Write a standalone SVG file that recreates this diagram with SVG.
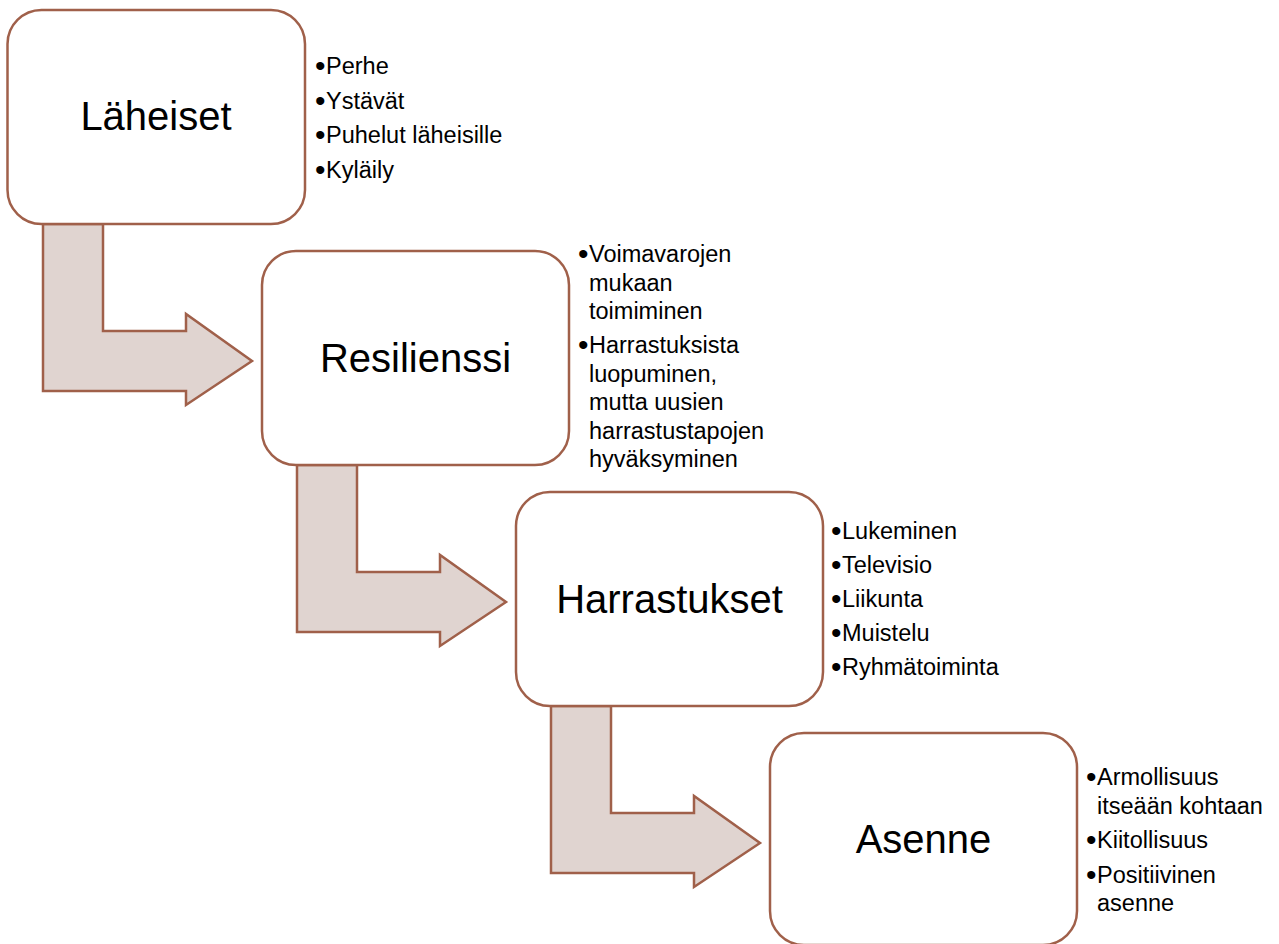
<svg xmlns="http://www.w3.org/2000/svg" width="1279" height="944" viewBox="0 0 1279 944">
<style>
.arrow{fill:#E0D4D0;stroke:#A0604A;stroke-width:2.5;stroke-linejoin:miter}
.box{fill:#FFFFFF;stroke:#A0604A;stroke-width:2.5}
.title{font-family:"Liberation Sans",Arial,sans-serif;font-size:40px;fill:#000;text-anchor:middle}
.item{font-family:"Liberation Sans",Arial,sans-serif;font-size:23.5px;fill:#000}
.b{font-size:30px}
</style>
<rect width="1279" height="944" fill="#FFFFFF"/>
<g id="connectors">
<path class="arrow" d="M43,224 L103,224 L103,331 L186,331 L186,314 L252,361 L186,405 L186,391 L43,391 Z"/>
<path class="arrow" d="M297,465 L357,465 L357,572 L440,572 L440,555 L506,602 L440,646 L440,632 L297,632 Z"/>
<path class="arrow" d="M551,706 L611,706 L611,813 L694,813 L694,796 L760,843 L694,887 L694,873 L551,873 Z"/>
</g>
<g id="node-laheiset">
<rect class="box" x="7.5" y="10" width="297.5" height="214" rx="34" ry="34"/>
<text class="title" x="156" y="130">Läheiset</text>
<text class="item"><tspan class="b" x="315" y="76">•</tspan><tspan x="326" y="74">Perhe</tspan><tspan class="b" x="315" y="110.5">•</tspan><tspan x="326" y="108.5">Ystävät</tspan><tspan class="b" x="315" y="145">•</tspan><tspan x="326" y="143">Puhelut läheisille</tspan><tspan class="b" x="315" y="179.5">•</tspan><tspan x="326" y="177.5">Kyläily</tspan></text>
</g>
<g id="node-resilienssi">
<rect class="box" x="262" y="251" width="307" height="214" rx="34" ry="34"/>
<text class="title" x="415.5" y="372">Resilienssi</text>
<text class="item"><tspan class="b" x="578" y="264">•</tspan><tspan x="589" y="262">Voimavarojen</tspan><tspan x="589" y="290.5">mukaan</tspan><tspan x="589" y="319">toimiminen</tspan><tspan class="b" x="578" y="355">•</tspan><tspan x="589" y="353">Harrastuksista</tspan><tspan x="589" y="381.5">luopuminen,</tspan><tspan x="589" y="410">mutta uusien</tspan><tspan x="589" y="438.5">harrastustapojen</tspan><tspan x="589" y="467">hyväksyminen</tspan></text>
</g>
<g id="node-harrastukset">
<rect class="box" x="516" y="492" width="307" height="214" rx="34" ry="34"/>
<text class="title" x="669.5" y="613">Harrastukset</text>
<text class="item"><tspan class="b" x="831" y="541">•</tspan><tspan x="842" y="539">Lukeminen</tspan><tspan class="b" x="831" y="575">•</tspan><tspan x="842" y="573">Televisio</tspan><tspan class="b" x="831" y="609">•</tspan><tspan x="842" y="607">Liikunta</tspan><tspan class="b" x="831" y="643">•</tspan><tspan x="842" y="641">Muistelu</tspan><tspan class="b" x="831" y="677">•</tspan><tspan x="842" y="675">Ryhmätoiminta</tspan></text>
</g>
<g id="node-asenne">
<rect class="box" x="770" y="733" width="307" height="212" rx="34" ry="34"/>
<text class="title" x="923.5" y="853">Asenne</text>
<text class="item"><tspan class="b" x="1086" y="787">•</tspan><tspan x="1097" y="785">Armollisuus</tspan><tspan x="1097" y="813.5">itseään kohtaan</tspan><tspan class="b" x="1086" y="850">•</tspan><tspan x="1097" y="848">Kiitollisuus</tspan><tspan class="b" x="1086" y="885">•</tspan><tspan x="1097" y="883">Positiivinen</tspan><tspan x="1097" y="911">asenne</tspan></text>
</g>
</svg>
